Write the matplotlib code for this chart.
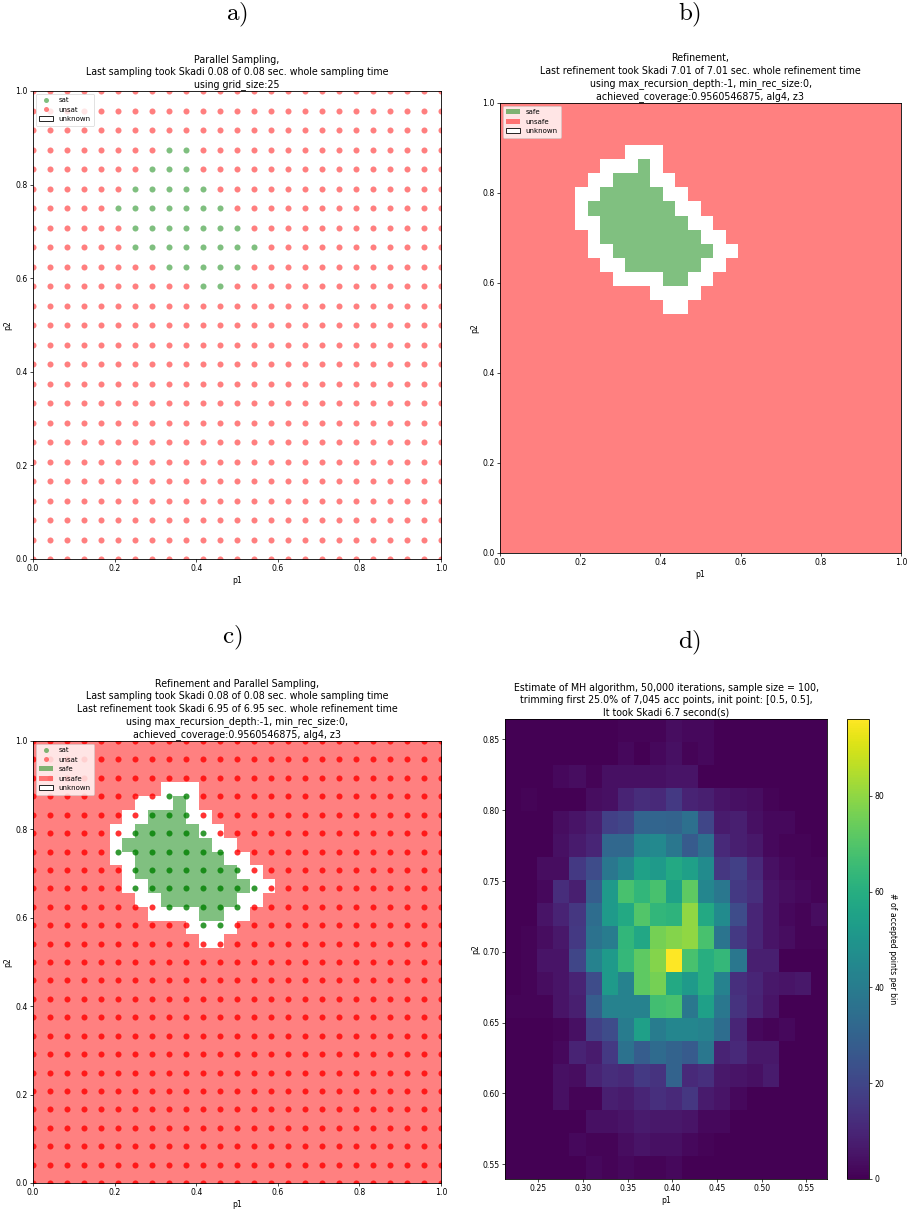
import numpy as np
import matplotlib
matplotlib.use("Agg")
import matplotlib.pyplot as plt
from matplotlib.colors import ListedColormap
from matplotlib.lines import Line2D
from matplotlib.patches import Patch

plt.rcParams['mathtext.fontset'] = 'cm'

# ---------------- data ----------------
grid_size = 25
# sat sample points: p2 grid index -> list of p1 grid indices
sat_points = {
    21: [8, 9],
    20: [7, 8, 9],
    19: [6, 7, 8, 9, 10],
    18: [5, 6, 7, 8, 9, 10, 11],
    17: [6, 7, 8, 9, 10, 11, 12],
    16: [6, 7, 8, 9, 10, 11, 12, 13],
    15: [8, 9, 10, 11, 12],
    14: [10, 11],
}

refine_cells = 32
# refinement: p2 cell index (from bottom) -> p1 cell indices
safe_cells = {
    27: [11],
    26: [9, 10, 11],
    25: [8, 9, 10, 11, 12],
    24: [7, 8, 9, 10, 11, 12, 13],
    23: [8, 9, 10, 11, 12, 13, 14],
    22: [8, 9, 10, 11, 12, 13, 14, 15],
    21: [9, 10, 11, 12, 13, 14, 15, 16],
    20: [10, 11, 12, 13, 14, 15],
    19: [13, 14],
}
unknown_cells = {
    28: [10, 11, 12],
    27: [8, 9, 10, 12],
    26: [7, 8, 12, 13],
    25: [6, 7, 13, 14],
    24: [6, 14, 15],
    23: [6, 7, 15, 16],
    22: [7, 16, 17],
    21: [7, 8, 17, 18],
    20: [8, 9, 16, 17],
    19: [9, 10, 11, 12, 15, 16],
    18: [12, 13, 14, 15],
    17: [13, 14],
}

# MH histogram (rows from top = highest p2, columns from low p1)
mh_p1_range = (0.2127, 0.5731)
mh_p2_range = (0.5396, 0.8644)
mh_counts_top_down = [
    [0, 0, 0, 0, 0, 0, 0, 1, 1, 1, 3, 2, 2, 0, 0, 0, 0, 0, 0, 0],
    [0, 0, 0, 0, 0, 0, 0, 2, 0, 2, 4, 1, 2, 0, 0, 0, 0, 0, 0, 0],
    [0, 0, 0, 2, 3, 1, 4, 4, 4, 4, 5, 5, 0, 0, 0, 0, 0, 0, 0, 0],
    [0, 1, 0, 0, 0, 3, 4, 9, 12, 11, 16, 9, 8, 5, 4, 3, 1, 0, 0, 0],
    [0, 0, 0, 3, 5, 8, 18, 20, 31, 31, 30, 35, 20, 7, 8, 4, 2, 2, 0, 0],
    [0, 0, 0, 4, 7, 10, 32, 32, 44, 45, 38, 27, 35, 11, 8, 6, 2, 1, 1, 0],
    [0, 0, 3, 3, 16, 22, 38, 44, 55, 52, 58, 54, 46, 15, 18, 11, 4, 2, 1, 1],
    [0, 0, 2, 12, 8, 28, 52, 68, 63, 68, 55, 72, 44, 38, 16, 13, 5, 3, 2, 1],
    [0, 0, 5, 9, 15, 34, 52, 58, 70, 63, 62, 80, 58, 46, 22, 10, 5, 2, 1, 3],
    [0, 1, 3, 6, 16, 36, 40, 63, 57, 76, 78, 80, 68, 37, 16, 10, 5, 3, 1, 1],
    [0, 1, 5, 5, 20, 42, 52, 64, 72, 78, 96, 68, 60, 64, 38, 8, 8, 0, 0, 0],
    [0, 1, 3, 5, 9, 22, 52, 42, 72, 76, 58, 52, 60, 42, 13, 10, 6, 5, 6, 0],
    [1, 1, 1, 5, 8, 28, 42, 42, 42, 67, 68, 38, 54, 38, 14, 9, 5, 0, 0, 0],
    [0, 0, 0, 1, 4, 18, 22, 40, 54, 40, 44, 44, 42, 34, 10, 2, 1, 2, 0, 0],
    [0, 0, 0, 2, 9, 7, 16, 36, 28, 33, 30, 27, 38, 9, 11, 6, 6, 0, 0, 0],
    [0, 0, 0, 4, 3, 9, 12, 11, 16, 14, 30, 11, 13, 6, 5, 4, 7, 0, 0, 0],
    [0, 0, 0, 4, 1, 1, 8, 7, 10, 13, 11, 15, 7, 5, 2, 0, 0, 0, 0, 0],
    [0, 0, 0, 0, 0, 4, 4, 5, 7, 6, 6, 5, 2, 2, 0, 0, 0, 0, 0, 0],
    [0, 0, 0, 0, 2, 1, 1, 3, 5, 4, 4, 2, 1, 0, 0, 0, 0, 0, 0, 0],
    [0, 0, 0, 0, 0, 2, 1, 2, 1, 1, 2, 0, 0, 0, 0, 0, 0, 0, 0, 0],
]

title_a = ("Parallel Sampling,\n"
           "Last sampling took Skadi 0.08 of 0.08 sec. whole sampling time\n"
           "using grid_size:25")
title_b = ("Refinement,\n"
           "Last refinement took Skadi 7.01 of 7.01 sec. whole refinement time\n"
           "using max_recursion_depth:-1, min_rec_size:0,\n"
           "achieved_coverage:0.9560546875, alg4, z3")
title_c = ("Refinement and Parallel Sampling,\n"
           "Last sampling took Skadi 0.08 of 0.08 sec. whole sampling time\n"
           "Last refinement took Skadi 6.95 of 6.95 sec. whole refinement time\n"
           "using max_recursion_depth:-1, min_rec_size:0,\n"
           "achieved_coverage:0.9560546875, alg4, z3")
title_d = ("Estimate of MH algorithm, 50,000 iterations, sample size = 100,\n"
           "trimming first 25.0% of 7,045 acc points, init point: [0.5, 0.5],\n"
           "It took Skadi 6.7 second(s)")

# ---------------- helpers ----------------
TITLE_FS = 6.85
TICK_FS = 5.6
LEG_FS = 5.0
TITLE_LS = 1.3

grid_vals = np.linspace(0, 1, grid_size)
sat_x, sat_y, unsat_x, unsat_y = [], [], [], []
for j in range(grid_size):
    for i in range(grid_size):
        if i in sat_points.get(j, []):
            sat_x.append(grid_vals[i]); sat_y.append(grid_vals[j])
        else:
            unsat_x.append(grid_vals[i]); unsat_y.append(grid_vals[j])

cat = np.zeros((refine_cells, refine_cells))  # 0 unsafe
for r, cols in safe_cells.items():
    for c in cols:
        cat[r, c] = 1
for r, cols in unknown_cells.items():
    for c in cols:
        cat[r, c] = 2
cell_edges = np.linspace(0, 1, refine_cells + 1)
cat_cmap = ListedColormap(['#ff8080', '#80c080', '#ffffff'])


def style_axes(ax):
    ax.tick_params(labelsize=TICK_FS, length=2.2, width=0.5, pad=1.5)
    for s in ax.spines.values():
        s.set_linewidth(0.6)
    ax.set_xlabel('p1', fontsize=TICK_FS, labelpad=2)
    ax.set_ylabel('p2', fontsize=TICK_FS, labelpad=2)


def unit_axes(ax):
    ax.set_xlim(0, 1)
    ax.set_ylim(0, 1)
    ticks = [0.0, 0.2, 0.4, 0.6, 0.8, 1.0]
    ax.set_xticks(ticks)
    ax.set_yticks(ticks)


W, H = 910, 1209
fig = plt.figure(figsize=(W / 100, H / 100), dpi=100)


def px_axes(l, t, r, b):
    return fig.add_axes([l / W, 1 - b / H, (r - l) / W, (b - t) / H])


ms = 19
leg_kw = dict(loc='upper left', fontsize=LEG_FS, borderpad=0.5, labelspacing=0.5,
              handlelength=2.0, handletextpad=0.8, framealpha=0.8, borderaxespad=0.4)
leg_kw_frame_lw = 0.5

# ---- panel a ----
ax_a = px_axes(33, 91, 441, 559)
ax_a.scatter(sat_x, sat_y, s=ms, c='green', alpha=0.5, linewidths=0, label='sat', clip_on=True)
ax_a.scatter(unsat_x, unsat_y, s=ms, c='red', alpha=0.5, linewidths=0, label='unsat', clip_on=True)
unit_axes(ax_a)
style_axes(ax_a)
ax_a.set_title(title_a, fontsize=TITLE_FS, pad=2.5, linespacing=TITLE_LS)
h_a = [Line2D([], [], marker='o', ls='', color='green', alpha=0.5, markersize=3.6, markeredgewidth=0),
       Line2D([], [], marker='o', ls='', color='red', alpha=0.5, markersize=3.6, markeredgewidth=0),
       Patch(facecolor='white', edgecolor='black', linewidth=0.6)]
leg = ax_a.legend(h_a, ['sat', 'unsat', 'unknown'], **leg_kw)
leg.get_frame().set_linewidth(leg_kw_frame_lw)

# ---- panel b ----
ax_b = px_axes(500, 103, 901, 553)
ax_b.pcolormesh(cell_edges, cell_edges, cat, cmap=cat_cmap, vmin=-0.5, vmax=2.5, shading='flat')
unit_axes(ax_b)
style_axes(ax_b)
ax_b.set_title(title_b, fontsize=TITLE_FS, pad=2.5, linespacing=TITLE_LS)
h_b = [Patch(facecolor='green', alpha=0.5, linewidth=0),
       Patch(facecolor='red', alpha=0.5, linewidth=0),
       Patch(facecolor='white', edgecolor='black', linewidth=0.6)]
leg = ax_b.legend(h_b, ['safe', 'unsafe', 'unknown'], **leg_kw)
leg.get_frame().set_linewidth(leg_kw_frame_lw)

# ---- panel c ----
ax_c = px_axes(33, 741, 441, 1183)
ax_c.pcolormesh(cell_edges, cell_edges, cat, cmap=cat_cmap, vmin=-0.5, vmax=2.5, shading='flat')
ax_c.scatter(sat_x, sat_y, s=ms, c='green', alpha=0.8, linewidths=0)
ax_c.scatter(unsat_x, unsat_y, s=ms, c='red', alpha=0.8, linewidths=0)
unit_axes(ax_c)
style_axes(ax_c)
ax_c.set_title(title_c, fontsize=TITLE_FS, pad=2.5, linespacing=TITLE_LS)
h_c = [Line2D([], [], marker='o', ls='', color='green', alpha=0.5, markersize=3.6, markeredgewidth=0),
       Line2D([], [], marker='o', ls='', color='red', alpha=0.5, markersize=3.6, markeredgewidth=0),
       Patch(facecolor='green', alpha=0.5, linewidth=0),
       Patch(facecolor='red', alpha=0.5, linewidth=0),
       Patch(facecolor='white', edgecolor='black', linewidth=0.6)]
leg = ax_c.legend(h_c, ['sat', 'unsat', 'safe', 'unsafe', 'unknown'], **leg_kw)
leg.get_frame().set_linewidth(leg_kw_frame_lw)

# ---- panel d ----
ax_d = px_axes(505, 719, 827, 1179)
counts = np.array(mh_counts_top_down[::-1], dtype=float)
xe = np.linspace(mh_p1_range[0], mh_p1_range[1], counts.shape[1] + 1)
ye = np.linspace(mh_p2_range[0], mh_p2_range[1], counts.shape[0] + 1)
mesh = ax_d.pcolormesh(xe, ye, counts, cmap='viridis', vmin=0, vmax=counts.max(), shading='flat')
ax_d.set_xlim(xe[0], xe[-1])
ax_d.set_ylim(ye[0], ye[-1])
ax_d.set_xticks([0.25, 0.30, 0.35, 0.40, 0.45, 0.50, 0.55])
ax_d.set_yticks([0.55, 0.60, 0.65, 0.70, 0.75, 0.80, 0.85])
ax_d.xaxis.set_major_formatter(matplotlib.ticker.FormatStrFormatter('%.2f'))
ax_d.yaxis.set_major_formatter(matplotlib.ticker.FormatStrFormatter('%.2f'))
style_axes(ax_d)
ax_d.set_title(title_d, fontsize=TITLE_FS, pad=2.5, linespacing=TITLE_LS)

cax = px_axes(847, 719, 869, 1179)
cb = fig.colorbar(mesh, cax=cax, ticks=[0, 20, 40, 60, 80])
cb.ax.tick_params(labelsize=TICK_FS, length=2.2, width=0.5, pad=1.5)
cb.outline.set_linewidth(0.6)
cb.set_label('# of accepted points per bin', fontsize=TICK_FS, rotation=270, labelpad=9)

# ---- panel letters ----
for x, y, s in [(237, 15, 'a)'), (690, 15, 'b)'), (232, 638, 'c)'), (690, 643, 'd)')]:
    fig.text(x / W, 1 - y / H, r'$\mathrm{' + s + '}$', fontsize=18, ha='center', va='center')

fig.savefig('out.png', dpi=100)
